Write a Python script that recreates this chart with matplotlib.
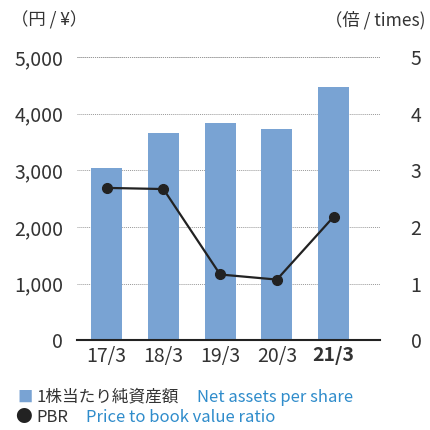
import matplotlib.pyplot as plt
import numpy as np

plt.rcParams['font.family'] = ['Noto Sans CJK JP', 'DejaVu Sans']

years = ['17/3', '18/3', '19/3', '20/3', '21/3']
net_assets = [3040, 3660, 3830, 3730, 4475]   # yen per share
pbr = [2.69, 2.67, 1.16, 1.07, 2.18]          # times

bar_color = '#79a3d3'
text_color = '#333333'
blue_text = '#2f8ccb'

fig = plt.figure(figsize=(4.31, 4.30), dpi=100)
ax = fig.add_axes([0.179, 0.209, 0.703, 0.658])
x = np.arange(len(years))

ax.bar(x, net_assets, width=0.55, color=bar_color, zorder=2)
ax.set_ylim(0, 5000)
ax.set_xlim(-0.52, 4.82)
ax.set_yticks([0, 1000, 2000, 3000, 4000, 5000])
ax.set_yticklabels(['0', '1,000', '2,000', '3,000', '4,000', '5,000'])
ax.yaxis.grid(True, linestyle=(0, (1, 1)), color='#999999', linewidth=0.7, zorder=0)
ax.axhline(5000, linestyle=(0, (1, 1)), color='#999999', linewidth=0.7, clip_on=False, zorder=0)
ax.set_axisbelow(True)

for s in ['top', 'left', 'right']:
    ax.spines[s].set_visible(False)
ax.spines['bottom'].set_color('#222222')
ax.spines['bottom'].set_linewidth(1.5)
ax.spines['bottom'].set_zorder(4)

ax.tick_params(axis='both', length=0, labelsize=14, colors=text_color)
ax.tick_params(axis='y', pad=10)
ax.tick_params(axis='x', pad=4)
ax.set_xticks(x)
ax.set_xticklabels(years)
ax.get_xticklabels()[-1].set_fontweight('bold')

ax2 = ax.twinx()
ax2.set_ylim(0, 5)
ax2.set_yticks([0, 1, 2, 3, 4, 5])
ax2.tick_params(axis='y', length=0, labelsize=14, colors=text_color, pad=22)
for s in ax2.spines.values():
    s.set_visible(False)
ax2.plot(x, pbr, color='#222222', linewidth=1.6, marker='o', markersize=7, zorder=5)

# unit labels
fig.text(0.025, 0.952, '（円 / ¥）', fontsize=12.5, color=text_color, va='center', ha='left')
fig.text(0.988, 0.952, '（倍 / times)', fontsize=12.5, color=text_color, va='center', ha='right')

# legend
fig.text(0.04, 0.076, '■', fontsize=11, color=bar_color, va='center', ha='left')
fig.text(0.085, 0.076, '1株当たり純資産額', fontsize=12, color=text_color, va='center', ha='left')
fig.text(0.458, 0.076, 'Net assets per share', fontsize=12, color=blue_text, va='center', ha='left')
fig.text(0.035, 0.028, '●', fontsize=12, color='#222222', va='center', ha='left')
fig.text(0.085, 0.028, 'PBR', fontsize=12, color=text_color, va='center', ha='left')
fig.text(0.2, 0.028, 'Price to book value ratio', fontsize=12, color=blue_text, va='center', ha='left')

fig.savefig('out.png', dpi=100)
